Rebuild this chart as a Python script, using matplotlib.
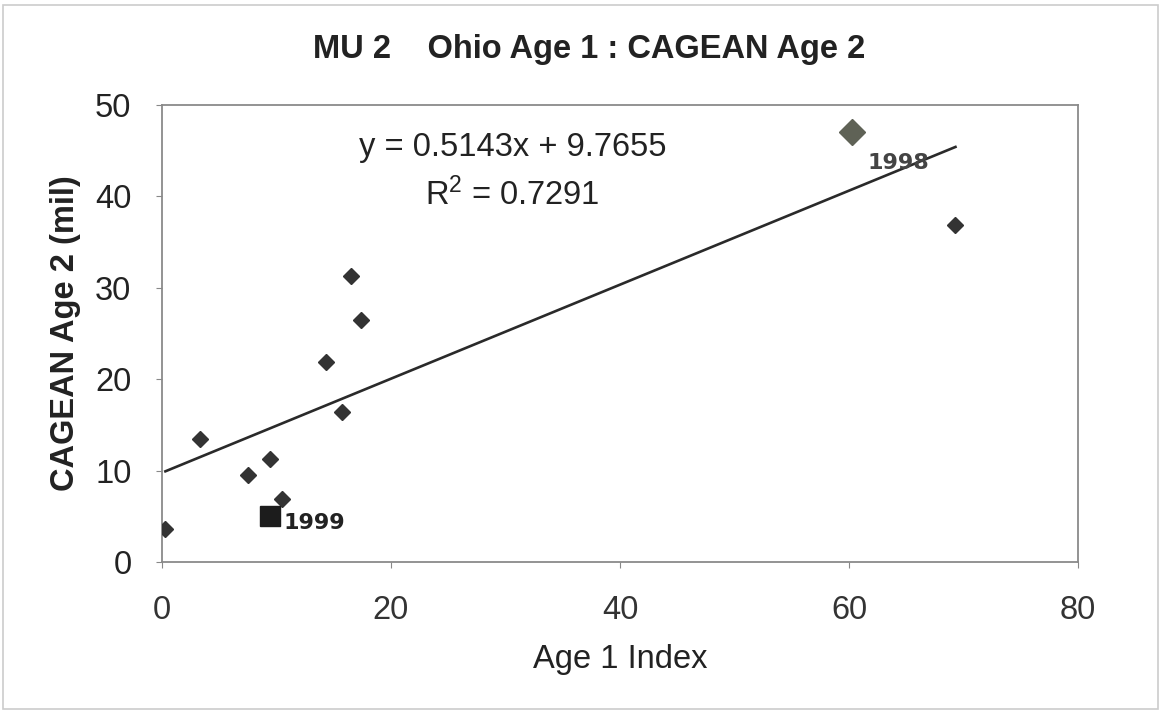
import numpy as np
import matplotlib.pyplot as plt
from matplotlib.patches import Rectangle

# Age 1 index vs CAGEAN age 2 estimates (millions)
age1_index = [0.3, 3.3, 7.5, 9.4, 10.5, 14.3, 15.7, 16.5, 17.4, 69.3]
cagean_age2 = [3.6, 13.5, 9.5, 11.3, 6.9, 21.9, 16.4, 31.3, 26.5, 36.9]

# highlighted years
year_1998 = (60.3, 47.0)
year_1999 = (9.4, 5.0)

# linear fit as reported on the chart
slope = 0.5143
intercept = 9.7655
r_squared = 0.7291

x_ticks = [0, 20, 40, 60, 80]
y_ticks = [0, 10, 20, 30, 40, 50]

plt.rcParams['font.family'] = ['Liberation Sans', 'DejaVu Sans']
plt.rcParams['mathtext.default'] = 'regular'

fig = plt.figure(figsize=(11.61, 7.13), dpi=100)
ax = fig.add_axes([0.1395, 0.2118, 0.789, 0.641])

# outer chart border
fig.patches.append(Rectangle((0.003, 0.005), 0.994, 0.988, transform=fig.transFigure,
                             fill=False, edgecolor='#cccccc', linewidth=1.2))

all_x = age1_index + [year_1998[0], year_1999[0]]
fit_x = np.array([min(all_x), max(all_x)])
ax.plot(fit_x, slope * fit_x + intercept, color='#2a2a2a', linewidth=1.9, zorder=2)

ax.plot(age1_index, cagean_age2, linestyle='none', marker='D', markersize=8,
        color='#333333', zorder=3)
ax.plot(*year_1998, linestyle='none', marker='D', markersize=13,
        color='#5f6256', zorder=3)
ax.plot(*year_1999, linestyle='none', marker='s', markersize=14,
        color='#1c1c1c', zorder=3)

ax.annotate('1998', year_1998, xytext=(11, -22), textcoords='offset points',
            fontsize=16, fontweight='bold', family='DejaVu Sans', color='#444444',
            va='center', ha='left')
ax.annotate('1999', year_1999, xytext=(10, -5), textcoords='offset points',
            fontsize=16, fontweight='bold', family='DejaVu Sans', color='#222222',
            va='center', ha='left')

ax.text(30.6, 45.4, f'y = {slope}x + {intercept}', fontsize=23.5, ha='center',
        va='center', color='#222222')
ax.text(30.6, 40.2, f'R$^2$ = {r_squared}', fontsize=23.5, ha='center',
        va='center', color='#222222')

ax.set_xlim(0, 80)
ax.set_ylim(0, 50)
ax.set_xticks(x_ticks)
ax.set_yticks(y_ticks)
ax.tick_params(axis='x', direction='out', length=4, pad=20, labelsize=23.5,
               color='#888888', labelcolor='#333333')
ax.tick_params(axis='y', direction='out', length=4, pad=18, labelsize=23.5,
               color='#888888', labelcolor='#222222')
for spine in ax.spines.values():
    spine.set_color('#8a8a8a')
    spine.set_linewidth(1.3)

ax.set_xlabel('Age 1 Index', fontsize=23.5, color='#222222', labelpad=13)
ax.set_ylabel('CAGEAN Age 2 (mil)', fontsize=23.5, fontweight='bold', color='#222222',
              labelpad=10)
fig.suptitle('MU 2    Ohio Age 1 : CAGEAN Age 2', x=0.507, y=0.952, fontsize=23.5,
             fontweight='bold', color='#222222')

fig.savefig('out.png', dpi=100, facecolor='white')
